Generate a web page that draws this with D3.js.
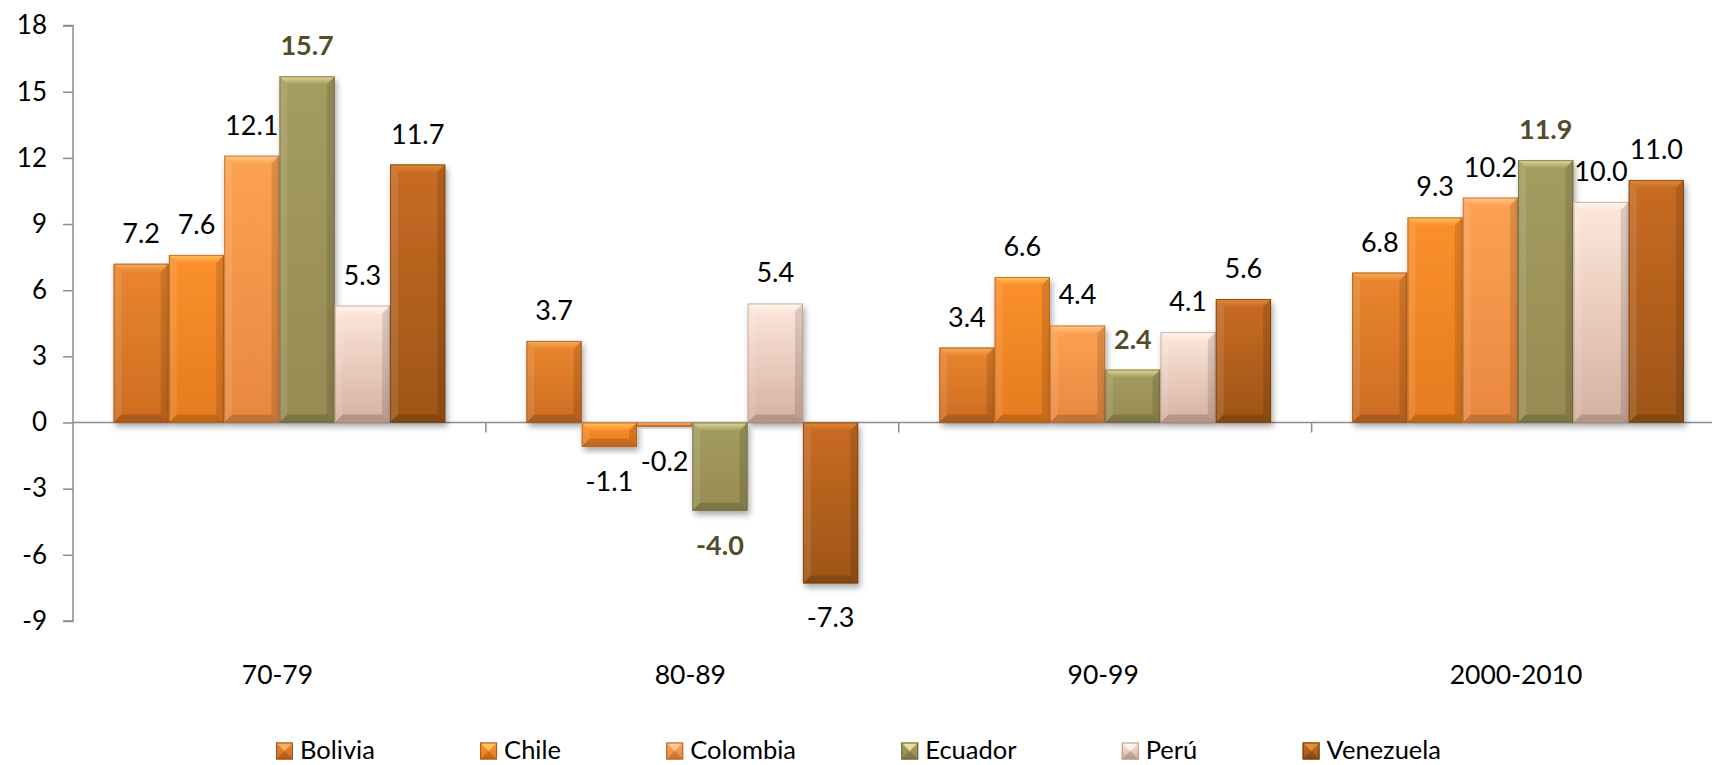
<!DOCTYPE html>
<html>
<head>
<meta charset="utf-8">
<script src="https://cdn.jsdelivr.net/npm/d3@7"></script>
<style>
  html, body { margin: 0; padding: 0; background: #ffffff; }
  svg { display: block; font-family: Lato, "Open Sans", sans-serif; }
</style>
</head>
<body>
<svg id="chart" width="1712" height="765"></svg>
<script>
// ---------- data ----------
const categories = ["70-79", "80-89", "90-99", "2000-2010"];
const seriesNames = ["Bolivia", "Chile", "Colombia", "Ecuador", "Perú", "Venezuela"];
const bolivia   = [7.2, 3.7, 3.4, 6.8];
const chile     = [7.6, -1.1, 6.6, 9.3];
const colombia  = [12.1, -0.2, 4.4, 10.2];
const ecuador   = [15.7, -4.0, 2.4, 11.9];
const peru      = [5.3, 5.4, 4.1, 10.0];
const venezuela = [11.7, -7.3, 5.6, 11.0];
const yTicks = [-9, -6, -3, 0, 3, 6, 9, 12, 15, 18];

const seriesValues = [bolivia, chile, colombia, ecuador, peru, venezuela];

// styles
const colTop    = ["#ea862f", "#fb902c", "#fca252", "#a59c60", "#fde8db", "#c96b23"];
const colBottom = ["#cd6c22", "#e67b1f", "#e8883f", "#968c52", "#d6b0a0", "#9d5518"];
const colBevel  = ["#f6b060", "#ffc562", "#ffc891", "#e6dd9f", "#fff6f0", "#e28d3c"];
const colStroke = ["#9a5318", "#a75a17", "#b0662c", "#6b6438", "#b89889", "#6e3a0f"];
const highlight = [false, false, false, true, false, false];

const hyphen = s => s.replace("\u2212", "-");

const svg = d3.select("#chart");
const defs = svg.append("defs");

const yZero = 422.5;
const pxPerUnit = 22.05;
const y = d3.scaleLinear().domain([-9, 18]).range([yZero + 9 * pxPerUnit, yZero - 18 * pxPerUnit]);
const x0 = d3.scaleBand().domain(categories).range([73, 1724.5]).paddingInner(0).paddingOuter(0);
const x1 = d3.scaleBand().domain(seriesNames).range([0, x0.bandwidth()]).paddingInner(0).paddingOuter(0.733);

// gradients
seriesNames.forEach((s, i) => {
  const g = defs.append("linearGradient").attr("id", "grad" + i)
    .attr("x1", 0).attr("y1", 0).attr("x2", 0).attr("y2", 1);
  g.append("stop").attr("offset", "0%").attr("stop-color", colTop[i]);
  g.append("stop").attr("offset", "100%").attr("stop-color", colBottom[i]);
  const gb = defs.append("linearGradient").attr("id", "bev" + i)
    .attr("x1", 0).attr("y1", 0).attr("x2", 0).attr("y2", 1);
  gb.append("stop").attr("offset", "0%").attr("stop-color", colBevel[i]);
  gb.append("stop").attr("offset", "100%").attr("stop-color", colTop[i]);
});
const f = defs.append("filter").attr("id", "shadow").attr("x", "-20%").attr("y", "-20%").attr("width", "150%").attr("height", "150%");
f.append("feDropShadow").attr("dx", 2).attr("dy", 4).attr("stdDeviation", 3)
  .attr("flood-color", "#000").attr("flood-opacity", 0.35);

// ---------- axes ----------
const axisColor = "#8c8c8c";
const yAxis = svg.append("g").attr("transform", "translate(73,0)")
  .call(d3.axisLeft(y).tickValues(yTicks).tickSize(10).tickPadding(16).tickFormat(d => hyphen(d3.format("d")(d))));
yAxis.select(".domain").attr("stroke", axisColor).attr("stroke-width", 1.5)
  .attr("d", `M-10,${y(18)}H0V${y(-9)}H-10`);
yAxis.selectAll(".tick line").attr("stroke", axisColor).attr("stroke-width", 1.5);
yAxis.selectAll(".tick text").attr("font-size", 26).attr("fill", "#000")
  .attr("font-family", "Lato, sans-serif");

// x axis at zero
const xAxisG = svg.append("g").attr("transform", `translate(0,${y(0)})`);
xAxisG.append("line").attr("x1", 73).attr("x2", 1712).attr("y1", 0).attr("y2", 0)
  .attr("stroke", axisColor).attr("stroke-width", 1.5);
xAxisG.selectAll("line.sep").data(categories.slice(1)).enter().append("line")
  .attr("class", "sep")
  .attr("x1", d => x0(d)).attr("x2", d => x0(d))
  .attr("y1", 0).attr("y2", 10).attr("stroke", axisColor).attr("stroke-width", 1.5);

// category labels
svg.append("g").selectAll("text").data(categories).enter().append("text")
  .attr("x", d => x0(d) + x0.bandwidth() / 2 - 2)
  .attr("y", 684)
  .attr("text-anchor", "middle")
  .attr("font-size", 26.5)
  .attr("fill", "#000")
  .text(d => d);

// ---------- bars ----------
function bevelBar(g, i, bx, by, bw, bh) {
  const b = Math.min(8, bh / 2, bw / 2);
  g.append("rect").attr("x", bx).attr("y", by).attr("width", bw).attr("height", bh)
    .attr("fill", `url(#grad${i})`).attr("filter", "url(#shadow)");
  g.append("path").attr("d", `M${bx},${by}H${bx + bw}L${bx + bw - b},${by + b}H${bx + b}Z`)
    .attr("fill", `url(#bev${i})`).attr("opacity", 0.95);
  g.append("path").attr("d", `M${bx},${by}L${bx + b},${by + b}V${by + bh - b}L${bx},${by + bh}Z`)
    .attr("fill", "#ffffff").attr("opacity", 0.10);
  g.append("path").attr("d", `M${bx + bw},${by}L${bx + bw - b},${by + b}V${by + bh - b}L${bx + bw},${by + bh}Z`)
    .attr("fill", "#000000").attr("opacity", 0.12);
  g.append("path").attr("d", `M${bx},${by + bh}H${bx + bw}L${bx + bw - b},${by + bh - b}H${bx + b}Z`)
    .attr("fill", "#000000").attr("opacity", 0.16);
  g.append("rect").attr("x", bx + 0.5).attr("y", by + 0.5).attr("width", Math.max(0, bw - 1)).attr("height", Math.max(0, bh - 1))
    .attr("fill", "none").attr("stroke", colStroke[i]).attr("stroke-width", 1).attr("opacity", 0.7);
}

const barsG = svg.append("g");
seriesNames.forEach((s, i) => {
  seriesValues[i].forEach((v, ci) => {
    const cat = categories[ci];
    const bx = x0(cat) + x1(s);
    const bw = x1.bandwidth();
    const by = Math.min(y(v), y(0));
    const bh = Math.abs(y(v) - y(0));
    bevelBar(barsG.append("g"), i, bx, by, bw, bh);
  });
});

// labels
const labelsG = svg.append("g");
seriesNames.forEach((s, i) => {
  seriesValues[i].forEach((v, ci) => {
    const cat = categories[ci];
    const cx = x0(cat) + x1(s) + x1.bandwidth() / 2;
    const ly = v >= 0 ? y(v) - 21 : y(v) + 44;
    labelsG.append("text")
      .attr("x", cx).attr("y", ly)
      .attr("text-anchor", "middle")
      .attr("font-size", 27)
      .attr("font-weight", highlight[i] ? "bold" : "normal")
      .attr("fill", highlight[i] ? "#544c2a" : "#000")
      .text(hyphen(d3.format(".1f")(v)));
  });
});

// ---------- legend ----------
function bevelMarker(g, i, bx, by, bw, bh) {
  const b = bw / 2;
  g.append("rect").attr("x", bx).attr("y", by).attr("width", bw).attr("height", bh).attr("fill", `url(#grad${i})`);
  g.append("path").attr("d", `M${bx},${by}H${bx + bw}L${bx + b},${by + b}Z`).attr("fill", colBevel[i]);
  g.append("path").attr("d", `M${bx},${by + bh}H${bx + bw}L${bx + b},${by + b}Z`).attr("fill", "#000").attr("opacity", 0.15);
  g.append("rect").attr("x", bx + 0.5).attr("y", by + 0.5).attr("width", bw - 1).attr("height", bh - 1)
    .attr("fill", "none").attr("stroke", colStroke[i]).attr("stroke-width", 1);
}
const legendG = svg.append("g");
const items = seriesNames.map((s, i) => {
  const g = legendG.append("g");
  const m = 17;
  bevelMarker(g.append("g"), i, 0, -m / 2, m, m);
  const t = g.append("text").attr("x", 24).attr("y", 8).attr("font-size", 25.5).attr("fill", "#000").text(s);
  return { g, w: 24 + t.node().getComputedTextLength() };
});
const legStart = 276, legEnd = 1441;
const totalW = d3.sum(items, d => d.w);
const gap = (legEnd - legStart - totalW) / (items.length - 1);
let cx = legStart;
items.forEach(it => {
  it.g.attr("transform", `translate(${cx},751)`);
  cx += it.w + gap;
});
</script>
</body>
</html>
